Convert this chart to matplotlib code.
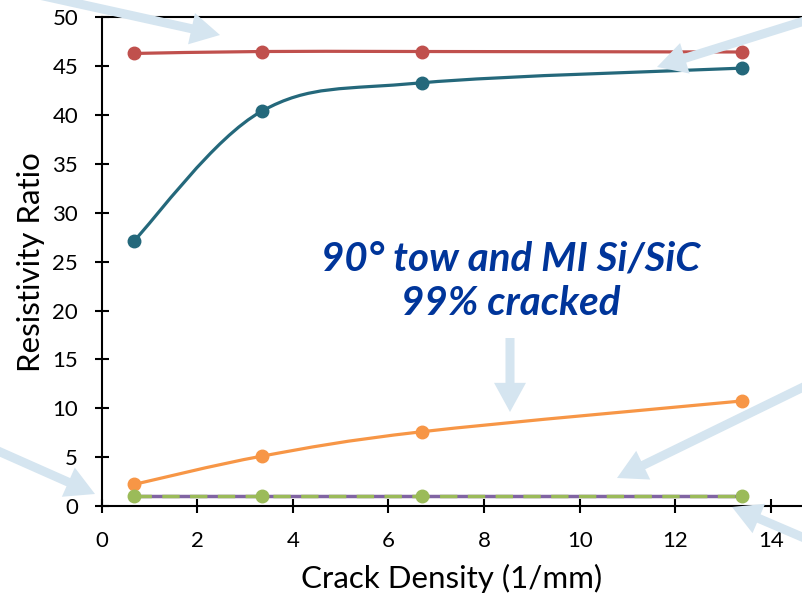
import numpy as np
import matplotlib
matplotlib.use("Agg")
import matplotlib.pyplot as plt
from matplotlib.path import Path
from matplotlib.patches import PathPatch

plt.rcParams['font.family'] = ['Lato', 'DejaVu Sans']

# data
crack_density = [0.67, 3.35, 6.7, 13.4]
ratio_red = [46.3, 46.5, 46.5, 46.45]
ratio_teal = [27.1, 40.4, 43.3, 44.8]
ratio_orange = [2.2, 5.1, 7.6, 10.75]
ratio_purple = [1.0, 1.0, 1.0, 1.0]
ratio_green = [1.0, 1.0, 1.0, 1.0]

note_text = "90° tow and MI Si/SiC\n99% cracked"

W, H = 802, 598


def smooth_path(x, y):
    """Catmull-Rom style smoothing (like Excel smoothed lines) as cubic beziers."""
    pts = np.column_stack([x, y]).astype(float)
    padded = np.vstack([pts[0], pts, pts[-1]])
    verts = [pts[0]]
    codes = [Path.MOVETO]
    for i in range(len(pts) - 1):
        p0, p1, p2, p3 = padded[i], padded[i + 1], padded[i + 2], padded[i + 3]
        c1 = p1 + (p2 - p0) / 6.0
        c2 = p2 - (p3 - p1) / 6.0
        verts += [c1, c2, p2]
        codes += [Path.CURVE4] * 3
    return Path(verts, codes)


def smooth_line(ax, x, y, color, z):
    patch = PathPatch(smooth_path(x, y), facecolor='none', edgecolor=color,
                      lw=2.3, zorder=z, capstyle='round')
    ax.add_patch(patch)
    ax.plot(x, y, 'o', color=color, ms=9, zorder=z + 0.1)


fig = plt.figure(figsize=(W / 100, H / 100), dpi=100)
ax = fig.add_axes([101.7 / W, 92 / H, 1 - 101.7 / W, (506 - 17.3) / H])

smooth_line(ax, crack_density, ratio_red, '#C0504D', 3)
smooth_line(ax, crack_density, ratio_teal, '#24687B', 3)
smooth_line(ax, crack_density, ratio_orange, '#F79646', 3)
ax.plot(crack_density, ratio_purple, '-', color='#8064A2', lw=2.5, zorder=3)
ax.plot(crack_density, ratio_green, '--', color='#9BBB59', lw=2.5,
        dashes=(5, 3), zorder=3.2)
ax.plot(crack_density, ratio_green, 'o', color='#9BBB59', ms=9, zorder=3.3)

ax.set_xlim(0, (W - 101.7) / 47.8)
ax.set_ylim(0, 50)
ax.set_xticks(range(0, 15, 2))
ax.set_yticks(range(0, 51, 5))
ax.spines['right'].set_visible(False)
for s in ['left', 'bottom', 'top']:
    ax.spines[s].set_linewidth(1.5)
ax.tick_params(direction='inout', length=10, width=1.5, labelsize=16)
ax.tick_params(axis='x', pad=13)
ax.tick_params(axis='y', pad=12)
ax.set_xlabel('Crack Density (1/mm)', fontsize=22.5, labelpad=9)
ax.set_ylabel('Resistivity Ratio', fontsize=22.5, labelpad=5)

ax.text(8.55, 23.0, note_text, ha='center', va='center', fontsize=29,
        fontweight='bold', fontstyle='italic', color='#00359A',
        linespacing=1.25, zorder=5)

# light blue pointer arrows (figure pixels, origin top-left)
arrows = [
    ((-20, -18), (220, 35)),
    ((830, 13), (657, 67)),
    ((-20, 443), (95, 494)),
    ((830, 374), (617, 478)),
    ((830, 549), (732, 507)),
    ((510, 338), (510, 412)),
]
for (tx, ty), (hx, hy) in arrows:
    ax.annotate('', xy=(hx, H - hy), xytext=(tx, H - ty),
                xycoords='figure pixels', textcoords='figure pixels',
                annotation_clip=False, zorder=6,
                arrowprops=dict(arrowstyle='simple,head_length=21,head_width=23,tail_width=6.5',
                                mutation_scale=1, color='#D5E5F0', lw=0,
                                shrinkA=0, shrinkB=0))

fig.savefig('out.png', dpi=100)
